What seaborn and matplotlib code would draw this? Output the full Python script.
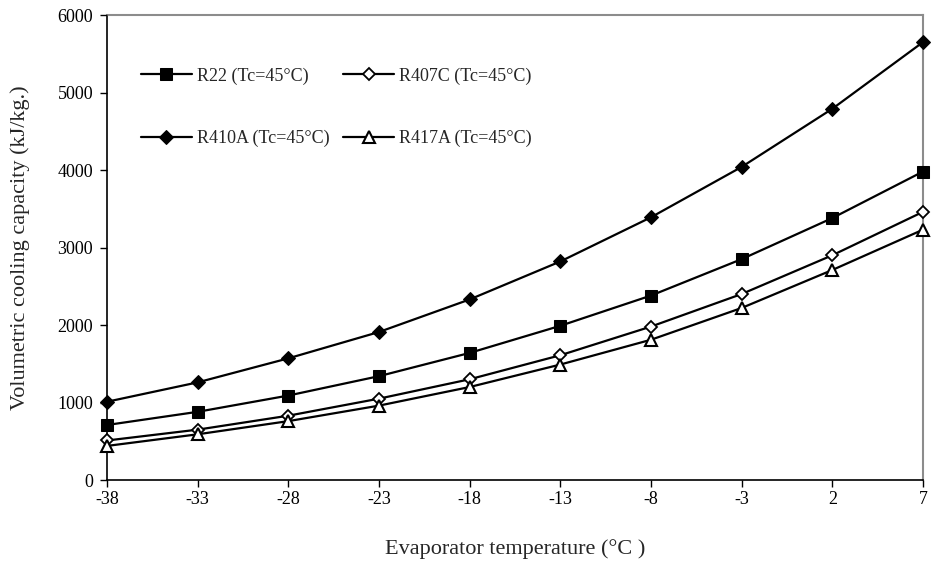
import matplotlib
matplotlib.use("Agg")
import matplotlib.pyplot as plt
import seaborn as sns
import pandas as pd

temps = [-38, -33, -28, -23, -18, -13, -8, -3, 2, 7]
r22 = [710, 880, 1090, 1340, 1640, 1990, 2380, 2850, 3380, 3980]
r407c = [510, 650, 830, 1050, 1300, 1610, 1980, 2400, 2900, 3460]
r410a = [1010, 1260, 1570, 1910, 2330, 2820, 3390, 4040, 4790, 5650]
r417a = [440, 590, 760, 960, 1200, 1490, 1810, 2220, 2710, 3230]
labels = ["R22 (Tc=45°C)", "R407C (Tc=45°C)", "R410A (Tc=45°C)", "R417A (Tc=45°C)"]

sns.set_theme(style="white")
plt.rcParams['font.family'] = ['Liberation Serif', 'DejaVu Serif']

fig = plt.figure(figsize=(9.32, 5.67), dpi=100)
ax = fig.add_axes([0.1148, 0.1534, 0.9903 - 0.1148, 0.9735 - 0.1534])

styles = [
    (r22, dict(marker='s', markersize=8.5, markerfacecolor='black', markeredgecolor='black')),
    (r407c, dict(marker='D', markersize=6.5, markerfacecolor='white', markeredgecolor='black', markeredgewidth=1.3)),
    (r410a, dict(marker='D', markersize=7.5, markerfacecolor='black', markeredgecolor='black')),
    (r417a, dict(marker='^', markersize=8.5, markerfacecolor='white', markeredgecolor='black', markeredgewidth=1.5)),
]
for (vals, kw), lab in zip(styles, labels):
    df = pd.DataFrame({"T": temps, "V": vals})
    sns.lineplot(data=df, x="T", y="V", ax=ax, color='black', linewidth=1.6, label=lab, **kw)

ax.set_xlim(-38, 7)
ax.set_ylim(0, 6000)
ax.set_xticks(temps)
ax.set_xticklabels([str(t) for t in temps])
ax.set_yticks(range(0, 6001, 1000))
ax.tick_params(axis='both', which='both', direction='out', length=5, width=1, colors='black',
               labelsize=13, bottom=True, left=True, pad=5)
ax.tick_params(axis='x', pad=3)
for s in ['left', 'bottom']:
    ax.spines[s].set_color('black')
    ax.spines[s].set_linewidth(1.2)
for s in ['top', 'right']:
    ax.spines[s].set_color('#8c8c8c')
    ax.spines[s].set_linewidth(1.5)
for s in ax.spines.values():
    s.set_zorder(0)

ax.set_xlabel("Evaporator temperature (°C )", fontsize=16, labelpad=22)
ax.set_ylabel("Volumetric cooling capacity (kJ/kg.)", fontsize=16, labelpad=20)

handles, labs = ax.get_legend_handles_labels()
order = [0, 2, 1, 3]
ax.legend([handles[i] for i in order], [labs[i] for i in order],
          loc='upper left', bbox_to_anchor=(0.022, 0.922), ncol=2, frameon=False, fontsize=13,
          handlelength=2.8, labelspacing=2.5, columnspacing=0.75, handletextpad=0.3)
for line in ax.get_lines():
    line.set_clip_on(False)

fig.savefig("out.png", dpi=100)
